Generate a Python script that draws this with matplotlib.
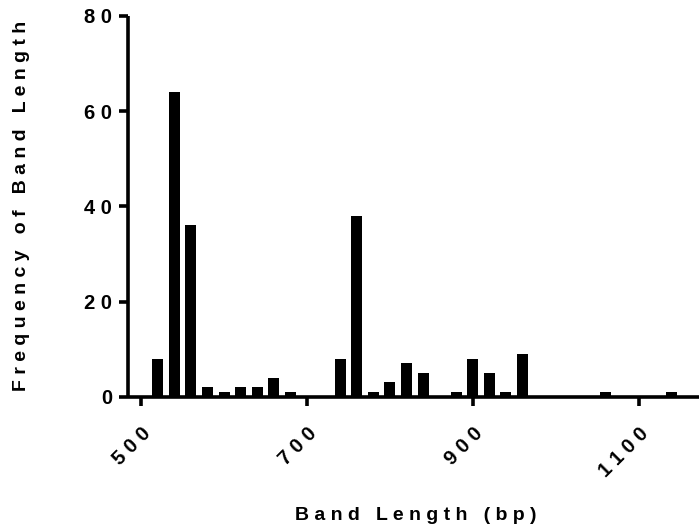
import matplotlib.pyplot as plt

plt.rcParams['font.family'] = ['Liberation Sans', 'DejaVu Sans']
plt.rcParams['font.weight'] = 'bold'

# histogram of band lengths, 20 bp bins
bin_centers = list(range(520, 1160, 20))
counts = [8, 64, 36, 2, 1, 2, 2, 4, 1, 0, 0, 8, 38, 1, 3, 7, 5, 0, 1, 8,
          5, 1, 9, 0, 0, 0, 0, 1, 0, 0, 0, 1]
x_ticks = [500, 700, 900, 1100]
y_ticks = [0, 20, 40, 60, 80]


def spaced(s):
    # wide letter spacing
    return ' '.join(s)


fig = plt.figure(figsize=(6.99, 5.31), dpi=100)
ax = fig.add_axes([0.1831, 0.2529, 0.8169, 0.7170])

ax.bar(bin_centers, counts, width=13.3, color='black', linewidth=0)

ax.set_xlim(484, 1173)
ax.set_ylim(0, 80)
ax.set_xticks(x_ticks)
ax.set_yticks(y_ticks)
ax.set_yticklabels([spaced(str(v)) for v in y_ticks], fontsize=14.5, fontweight='bold')
ax.set_xticklabels([spaced(str(v)) for v in x_ticks], fontsize=14.5, fontweight='bold',
                   rotation=45, ha='right', va='top', rotation_mode='anchor')

for side in ['top', 'right']:
    ax.spines[side].set_visible(False)
for side in ['left', 'bottom']:
    ax.spines[side].set_linewidth(2.6)
    ax.spines[side].set_capstyle('butt')
ax.tick_params(axis='both', direction='out', length=6.5, width=2.6)
ax.tick_params(axis='y', pad=5)
ax.tick_params(axis='x', pad=13)

fig.text(416 / 699, 1 - 516 / 531, spaced('Band Length (bp)'), fontsize=14,
         fontweight='bold', ha='center', va='center')
fig.text(22 / 699, 1 - 206 / 531, spaced('Frequency of Band Length'), fontsize=14,
         fontweight='bold', ha='center', va='center', rotation=90)

fig.savefig('out.png', dpi=100)
